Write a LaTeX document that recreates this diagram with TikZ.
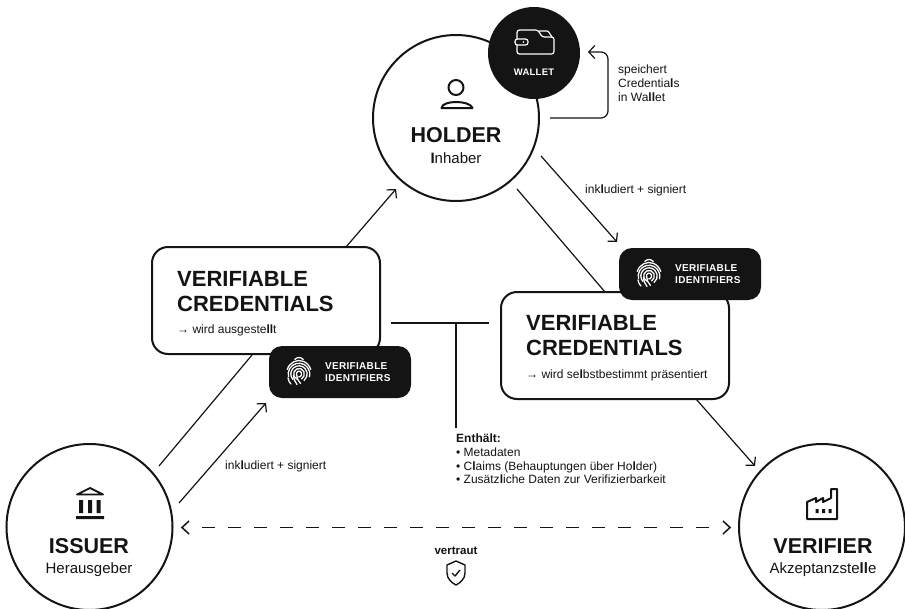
\documentclass[tikz,border=0pt]{standalone}
\usepackage{fontspec}
\setmainfont{Liberation Sans}
\usetikzlibrary{arrows.meta}
\definecolor{ink}{HTML}{141414}
\newcommand{\hv}[1]{{\bfseries #1}}
\newcommand{\fparc}[4]{\draw (0,-2) ++(#1:#3 and #4) arc[start angle=#1,end angle=#2,x radius=#3,y radius=#4];}
\tikzset{
  actor/.style={circle,draw=ink,line width=2pt,fill=white,minimum size=166pt,inner sep=0pt,outer sep=0pt},
  blackdisc/.style={circle,fill=ink,minimum size=92pt,inner sep=0pt,outer sep=0pt},
  vcbox/.style={rectangle,draw=ink,line width=2pt,fill=white,rounded corners=16pt,minimum width=228pt,minimum height=107pt,inner sep=0pt,outer sep=0pt},
  badge/.style={rectangle,fill=ink,rounded corners=13pt,minimum width=142pt,minimum height=52pt,inner sep=0pt,outer sep=0pt},
  conn/.style={draw=ink,line width=1.2pt},
  arr/.style={conn,-{Straight Barb[length=6pt,width=13pt,line width=1.2pt]}},
  bigname/.style={text=ink,inner sep=0pt,anchor=mid,font=\fontsize{21.5}{24}\selectfont\bfseries},
  subname/.style={text=ink,inner sep=0pt,anchor=mid,font=\fontsize{15}{18}\selectfont},
  vctitle/.style={text=ink,inner sep=0pt,anchor=north west,align=left,font=\fontsize{22}{25}\selectfont\bfseries},
  small/.style={text=ink,inner sep=0pt,anchor=mid west,font=\fontsize{12}{13.6}\selectfont},
  multi/.style={text=ink,inner sep=0pt,anchor=north west,align=left,font=\fontsize{12}{13.6}\selectfont},
  badgetext/.style={text=white,inner sep=0pt,anchor=north west,align=left,font=\fontsize{10}{12}\selectfont\bfseries\addfontfeatures{LetterSpace=3}},
  icon/.style={draw=ink,line width=1.8pt,line join=round},
  fingerprint/.pic={
    \begin{scope}[x=1pt,y=1pt,draw=white,line width=1.3pt,line cap=round]
      \fparc{118}{62}{9}{16.5}
      \fparc{160}{20}{12.5}{13.5}
      \fparc{195}{-15}{10.8}{10.8}
      \fparc{222}{-52}{8.2}{8.2}
      \fparc{250}{-62}{5.4}{5.6}
      \fparc{205}{-95}{2.6}{2.9}
      \draw (-11,-6) .. controls (-10.5,-9) and (-9.5,-10.5) .. (-8,-12);
      \draw (-2.4,-3) .. controls (-2.2,-6) and (-1,-9) .. (1.5,-11.5);
      \draw (-5.4,-3) .. controls (-5.4,-7) and (-4,-10) .. (-2,-12.5);
    \end{scope}
  }
}
\begin{document}
\begin{tikzpicture}[x=1pt,y=-1pt]
\path[use as bounding box,fill=white] (0,0) rectangle (905,608);

% named free ends
\coordinate (aS) at (159,466); \coordinate (aE) at (252,355);
\coordinate (bS) at (346,247); \coordinate (bE) at (396,189);
\coordinate (cS) at (179,503); \coordinate (cE) at (266,403);
\coordinate (dS) at (517,189); \coordinate (dE) at (605,292);
\coordinate (eS) at (696,399); \coordinate (eE) at (755,466);
\coordinate (fS) at (541,156); \coordinate (fE) at (617,242);
\coordinate (gS) at (391,323); \coordinate (gE) at (489,323);
\coordinate (hS) at (456,323); \coordinate (hE) at (456,428);
\coordinate (iS) at (550,118); \coordinate (iC) at (608,118);
\coordinate (iD) at (608,52); \coordinate (iE) at (588,52);
\coordinate (jS) at (202,527.5); \coordinate (jE) at (710,527.5);
\coordinate (jL) at (182,527.5); \coordinate (jR) at (730,527.5);

% connectors
\draw[conn] (aS) -- (aE);
\draw[arr] (bS) -- (bE);
\draw[arr] (cS) -- (cE);
\draw[conn] (dS) -- (dE);
\draw[arr] (eS) -- (eE);
\draw[arr] (fS) -- (fE);
\draw[conn] (gS) -- (gE);
\draw[conn] (hS) -- (hE);
\draw[conn,-{Straight Barb[length=6pt,width=13pt,line width=1.2pt]},rounded corners=7pt] (iS) -- (iC) -- (iD) -- (iE);
\draw[conn,line width=1.6pt,dash pattern=on 13pt off 13pt] (jS) -- (jE);
\draw[conn,line width=1.5pt] ([shift={(7,-6.5)}]jL) -- (jL) -- ([shift={(7,6.5)}]jL);
\draw[conn,line width=1.5pt] ([shift={(-7,-6.5)}]jR) -- (jR) -- ([shift={(-7,6.5)}]jR);

% actors
\node[actor] (holder) at (456,118) {};
\node[blackdisc] (wallet) at (534,53) {};
\node[actor] (issuer) at (89.5,527) {};
\node[actor] (verifier) at (822,527) {};

% holder
\draw[icon,line width=2pt] (456,87.5) circle[radius=7.5];
\draw[icon,line width=2pt] (441.5,108) .. controls (442,100) and (470,100) .. (472.5,108) -- cycle;
\node[bigname] (holdername) at (456,140) {HOLDER};
\node[subname] (holdersub) at (456,161) {\hv{I}nhaber};

% wallet
\begin{scope}[draw=white,line width=1.2pt,line join=round]
  \draw[rounded corners=2.5pt] (517,39) -- (517,30) -- (538,30) -- (542,37) -- (554,37) -- (554,54) -- (517,54) -- (517,45);
  \draw[rounded corners=1pt] (539,31) -- (548,31) -- (552,37);
  \draw[fill=ink,rounded corners=2.5pt] (515,39) rectangle (528,45);
  \fill[white] (523.5,42) circle[radius=0.9];
\end{scope}
\node[text=white,inner sep=0pt,anchor=mid,font=\fontsize{9.5}{12}\selectfont\bfseries\addfontfeatures{LetterSpace=3}] (walletlabel) at (534,73) {WALLET};

% issuer
\draw[icon,line width=1.8pt] (90,488) -- (103,494.5) -- (77,494.5) -- cycle;
\fill[ink] (79,500) rectangle (83,513) (88,500) rectangle (92,513) (96.5,500) rectangle (100.5,513) (76,516) rectangle (104,519);
\node[bigname] (issuername) at (89,551) {ISSUER};
\node[subname] (issuersub) at (89,571) {Herausgeber};

% verifier
\draw[icon,line width=2pt] (807,502) -- (807,519) -- (837,519) -- (837,489) -- (831,489) -- (831,498) -- (823,502) -- (823,498) -- (816,502) -- (816,498) -- cycle;
\fill[ink] (815.5,509) rectangle (818.5,513) (822,509) rectangle (825,513) (828.5,509) rectangle (831.5,513);
\node[bigname] (verifiername) at (823,551) {VERIFIER};
\node[subname] (verifiersub) at (823,571) {Akzeptanzste\hv{ll}e};

% credential boxes
\node[vcbox] (vc1) at (266,300.5) {};
\node[vctitle] (vc1t) at (177,271) {VERIFIABLE\\CREDENTIALS};
\node[small] (vc1s) at (177,331) {→ wird ausgeste\hv{ll}t};
\node[vcbox] (vc2) at (615,345.5) {};
\node[vctitle] (vc2t) at (526,315) {VERIFIABLE\\CREDENTIALS};
\node[small] (vc2s) at (526,376) {→ wird se\hv{l}bstbestimmt präsentiert};

% badges
\node[badge] (vi1) at (340,372) {};
\pic at (299,372) {fingerprint};
\node[badgetext] (vi1t) at (325,362) {VERIFIABLE\\IDENTIFIERS};
\node[badge] (vi2) at (690,274) {};
\pic at (649,274) {fingerprint};
\node[badgetext] (vi2t) at (675,264) {VERIFIABLE\\IDENTIFIERS};

% labels
\node[multi] (store) at (618,65) {speichert\\Credentia\hv{l}s\\in Wa\hv{ll}et};
\node[small] (incl1) at (585,191) {ink\hv{l}udiert + signiert};
\node[small] (incl2) at (225,467) {ink\hv{l}udiert + signiert};
\node[multi] (contains) at (456,434) {\textbf{Enthä\hv{l}t:}\\• Metadaten\\• C\hv{l}aims (Behauptungen über Ho\hv{l}der)\\• Zusätz\hv{l}iche Daten zur Verifizierbarkeit};
\node[text=ink,inner sep=0pt,anchor=mid,font=\fontsize{11.5}{14}\selectfont\bfseries] (trust) at (456,552) {vertraut};

% shield
\draw[icon,line width=1.4pt] (456,561) -- (465,565) -- (465,573) .. controls (465,579) and (460,583) .. (456,585) .. controls (452,583) and (447,579) .. (447,573) -- (447,565) -- cycle;
\draw[icon,line width=1.4pt] (452,573) -- (455,576) -- (460,570);
\end{tikzpicture}
\end{document}
